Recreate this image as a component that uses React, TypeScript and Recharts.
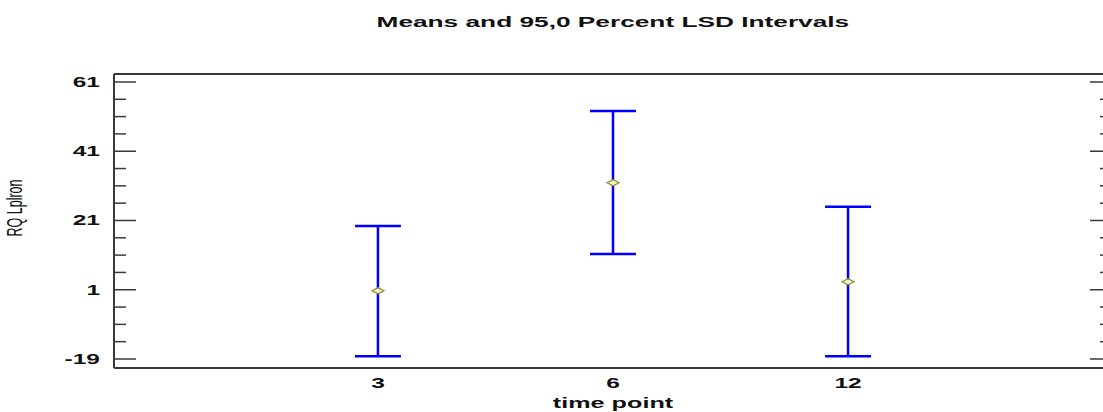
import React from "react";
import {
  ComposedChart,
  Scatter,
  ErrorBar,
  XAxis,
  YAxis,
  ReferenceLine,
} from "recharts";

// categories on the x axis (time point)
const categories = ["3", "6", "12"];
// group means and 95% LSD interval bounds
const means = [0.7, 31.9, 3.3];
const lowerBounds = [-18.2, 11.3, -18.2];
const upperBounds = [19.4, 52.6, 25.0];

const yTicks = [-19, -14, -9, -4, 1, 6, 11, 16, 21, 26, 31, 36, 41, 46, 51, 56, 61];
const yMajor = [-19, 1, 21, 41, 61];

const data = categories.map((c, i) => ({
  x: i + 1,
  label: c,
  mean: means[i],
  err: [means[i] - lowerBounds[i], upperBounds[i] - means[i]],
}));

const FONT = "'Liberation Sans', Arial, sans-serif";
const STRETCH = 1.75;
const FRAME = "#3a3a3a";
const Y_DOMAIN = [-21.6, 63.3];

const LeftTick = (props: any) => {
  const { x, y, payload } = props;
  const major = yMajor.includes(payload.value);
  return (
    <g>
      <line x1={x} x2={x + (major ? 22 : 12)} y1={y} y2={y} stroke={FRAME} strokeWidth={1.5} />
      {major && (
        <text
          transform={`translate(${x - 14},${y + 5}) scale(${STRETCH},1)`}
          textAnchor="end"
          fontFamily={FONT}
          fontWeight="bold"
          fontSize={14}
          fill="#111"
        >
          {payload.value}
        </text>
      )}
    </g>
  );
};

const RightTick = (props: any) => {
  const { x, y, payload } = props;
  const major = yMajor.includes(payload.value);
  return (
    <line x1={x} x2={x - (major ? 22 : 12)} y1={y} y2={y} stroke={FRAME} strokeWidth={1.5} />
  );
};

const BottomTick = (props: any) => {
  const { x, y, payload } = props;
  const idx = Math.round(payload.value) - 1;
  return (
    <text
      transform={`translate(${x},${y + 20}) scale(${STRETCH},1)`}
      textAnchor="middle"
      fontFamily={FONT}
      fontWeight="bold"
      fontSize={14}
      fill="#111"
    >
      {categories[idx]}
    </text>
  );
};

const MeanMarker = (props: any) => {
  const { cx, cy } = props;
  return (
    <polygon
      points={`${cx - 6},${cy} ${cx},${cy - 3} ${cx + 6},${cy} ${cx},${cy + 3}`}
      fill="#f4f4d8"
      stroke="#8c8c20"
      strokeWidth={1.2}
    />
  );
};

export default function App() {
  return (
    <div style={{ position: "absolute", left: 0, top: 0, width: 1103, height: 412, overflow: "hidden", background: "#fff" }}>
      <div
        style={{
          position: "absolute",
          left: 0,
          top: 14,
          width: 1225,
          textAlign: "center",
          fontFamily: FONT,
          fontWeight: "bold",
          fontSize: 15,
          lineHeight: "16px",
          color: "#111",
          transform: `scaleX(${STRETCH})`,
          transformOrigin: "612px 0",
        }}
      >
        Means and 95,0 Percent LSD Intervals
      </div>
      <ComposedChart
        width={1120}
        height={412}
        data={data}
        margin={{ top: 74, right: 0, bottom: 0, left: 0 }}
      >
        <XAxis
          dataKey="x"
          type="number"
          domain={[-0.123, 4.123]}
          allowDataOverflow
          ticks={[1, 2, 3]}
          interval={0}
          height={44}
          tickSize={0}
          tickMargin={0}
          tickLine={false}
          tick={<BottomTick />}
          axisLine={{ stroke: FRAME, strokeWidth: 2 }}
          label={{
            content: (p: any) => {
              const vb = p.viewBox || {};
              return (
                <text
                  transform={`translate(${vb.x + vb.width / 2},${vb.y + 40}) scale(1.8,1)`}
                  textAnchor="middle"
                  fontFamily={FONT}
                  fontWeight="bold"
                  fontSize={14}
                  fill="#111"
                >
                  time point
                </text>
              );
            },
          }}
        />
        <YAxis
          yAxisId="left"
          type="number"
          domain={Y_DOMAIN}
          allowDataOverflow
          ticks={yTicks}
          interval={0}
          width={114}
          tickSize={0}
          tickMargin={0}
          tickLine={false}
          tick={<LeftTick />}
          axisLine={{ stroke: FRAME, strokeWidth: 2 }}
          label={{
            content: () => (
              <text
                transform="translate(22,208) scale(1.7,1) rotate(-90)"
                textAnchor="middle"
                fontFamily={FONT}
                fontSize={12.5}
                fill="#111"
              >
                RQ Lplron
              </text>
            ),
          }}
        />
        <YAxis
          yAxisId="right"
          orientation="right"
          type="number"
          domain={Y_DOMAIN}
          allowDataOverflow
          ticks={yTicks}
          interval={0}
          width={8}
          tickSize={0}
          tickMargin={0}
          tickLine={false}
          tick={<RightTick />}
          axisLine={{ stroke: FRAME, strokeWidth: 2 }}
        />
        <ReferenceLine yAxisId="left" y={Y_DOMAIN[1]} stroke={FRAME} strokeWidth={2} ifOverflow="extendDomain" />
        <Scatter
          yAxisId="left"
          dataKey="mean"
          isAnimationActive={false}
          shape={<MeanMarker />}
        >
          <ErrorBar
            dataKey="err"
            direction="y"
            width={23}
            stroke="#0000ff"
            strokeWidth={2.5}
            isAnimationActive={false}
          />
        </Scatter>
      </ComposedChart>
    </div>
  );
}
